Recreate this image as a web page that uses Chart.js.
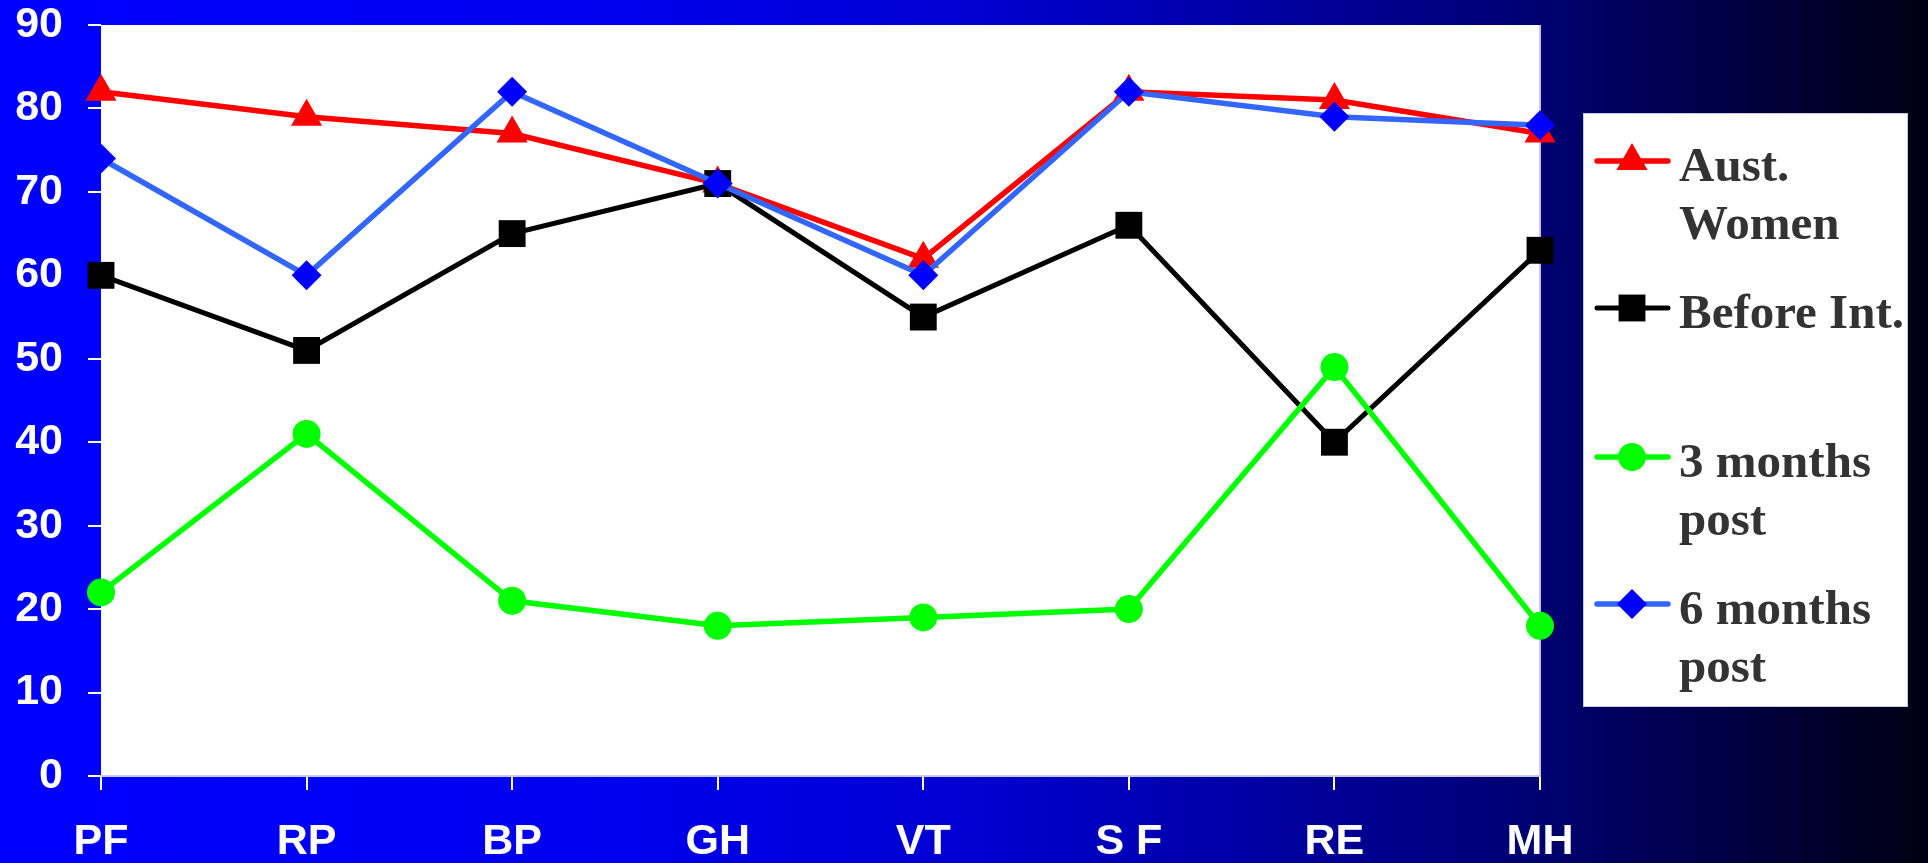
<!DOCTYPE html>
<html>
<head>
<meta charset="utf-8">
<title>SF-36 scores</title>
<script src="https://cdn.jsdelivr.net/npm/chart.js@4/dist/chart.umd.min.js"></script>
<style>
  html, body { margin: 0; padding: 0; background: #000; overflow: hidden; }
  canvas { display: block; }
</style>
</head>
<body>
<canvas id="chart" width="1928" height="863"></canvas>
<script>
// SF-36 domain scores
const categories = ['PF', 'RP', 'BP', 'GH', 'VT', 'S F', 'RE', 'MH'];
const austWomen   = [82, 79, 77, 71, 62, 82, 81, 77];
const beforeInt   = [60, 51, 65, 71, 55, 66, 40, 63];
const threeMonths = [22, 41, 21, 18, 19, 20, 49, 18];
const sixMonths   = [74, 60, 82, 71, 60, 82, 79, 78];

// value axis range and step
const yMin = 0;
const yMax = 90;
const yStep = 10;

// legend text, one array of lines per series
const legendLines = [
  ['Aust.', 'Women'],
  ['Before Int.'],
  ['3 months', 'post'],
  ['6 months', 'post']
];

const tickFont = { family: '"Liberation Sans", Arial, sans-serif', size: 43, weight: 'bold', lineHeight: 1.16 };
const legendFont = 'bold 49px "Liberation Serif", "Times New Roman", serif';

// slide background and white plot panel
const slideBackground = {
  id: 'slideBackground',
  beforeDraw(chart) {
    const { ctx, width, height, chartArea: a } = chart;
    const g = ctx.createLinearGradient(0, 0, width, 0);
    g.addColorStop(0.00, '#0000FF');
    g.addColorStop(0.30, '#0000F0');
    g.addColorStop(0.50, '#0000D2');
    g.addColorStop(0.65, '#0000A4');
    g.addColorStop(0.80, '#000070');
    g.addColorStop(0.90, '#000042');
    g.addColorStop(1.00, '#000012');
    ctx.save();
    ctx.fillStyle = g;
    ctx.fillRect(0, 0, width, height);
    ctx.fillStyle = '#FFFFFF';
    ctx.fillRect(a.left, a.top, a.right - a.left, a.bottom - a.top);
    ctx.strokeStyle = '#C8C8E6';
    ctx.lineWidth = 2;
    ctx.beginPath();
    ctx.moveTo(a.right, a.top);
    ctx.lineTo(a.right, a.bottom);
    ctx.stroke();
    ctx.restore();
  }
};

// boxed legend at the right with multi-line labels
const boxLegend = {
  id: 'boxLegend',
  afterDraw(chart) {
    const { ctx } = chart;
    const box = { x: 1583, y: 113, w: 325, h: 594 };
    const markerYs = [161, 308, 457, 604];
    const lineX0 = 1597, lineX1 = 1668, markX = 1632, textX = 1679;
    const lineGap = 57.5;
    ctx.save();
    ctx.fillStyle = '#FFFFFF';
    ctx.fillRect(box.x, box.y, box.w, box.h);
    ctx.strokeStyle = '#C8C8E6';
    ctx.lineWidth = 1;
    ctx.strokeRect(box.x + 0.5, box.y + 0.5, box.w - 1, box.h - 1);

    chart.data.datasets.forEach((ds, i) => {
      const y = markerYs[i];
      ctx.strokeStyle = ds.borderColor;
      ctx.lineWidth = ds.borderWidth;
      ctx.lineCap = 'round';
      ctx.beginPath();
      ctx.moveTo(lineX0, y);
      ctx.lineTo(lineX1, y);
      ctx.stroke();
      ctx.lineCap = 'butt';
      ctx.fillStyle = ds.pointBackgroundColor;
      ctx.strokeStyle = ds.pointBackgroundColor;
      Chart.helpers.drawPoint(ctx, {
        pointStyle: ds.pointStyle,
        radius: ds.pointRadius,
        rotation: 0,
        borderWidth: 0
      }, markX, y);

      ctx.fillStyle = '#333333';
      ctx.font = legendFont;
      ctx.textAlign = 'left';
      ctx.textBaseline = 'alphabetic';
      legendLines[i].forEach((t, k) => {
        ctx.fillText(t, textX, y + 20 + k * lineGap);
      });
    });
    ctx.restore();
  }
};

new Chart(document.getElementById('chart'), {
  type: 'line',
  data: {
    labels: categories,
    datasets: [
      {
        label: 'Aust. Women',
        data: austWomen,
        order: 4,
        borderColor: '#FF0000',
        borderWidth: 5.5,
        pointStyle: 'triangle',
        pointRadius: 18,
        pointBackgroundColor: '#FF0000',
        pointBorderWidth: 0,
        tension: 0,
        clip: false
      },
      {
        label: 'Before Int.',
        data: beforeInt,
        order: 3,
        borderColor: '#000000',
        borderWidth: 5,
        pointStyle: 'rect',
        pointRadius: 19,
        pointBackgroundColor: '#000000',
        pointBorderWidth: 0,
        tension: 0,
        clip: false
      },
      {
        label: '3 months post',
        data: threeMonths,
        order: 2,
        borderColor: '#00FF00',
        borderWidth: 5.5,
        pointStyle: 'circle',
        pointRadius: 14,
        pointBackgroundColor: '#00FF00',
        pointBorderWidth: 0,
        tension: 0,
        clip: false
      },
      {
        label: '6 months post',
        data: sixMonths,
        order: 1,
        borderColor: '#3366FF',
        borderWidth: 5.5,
        pointStyle: 'rectRot',
        pointRadius: 15,
        pointBackgroundColor: '#0000FF',
        pointBorderWidth: 0,
        tension: 0,
        clip: false
      }
    ]
  },
  options: {
    responsive: false,
    animation: false,
    events: [],
    layout: { padding: { left: 0, top: 0, right: 388, bottom: 0 } },
    plugins: {
      legend: { display: false },
      tooltip: { enabled: false },
      title: { display: false }
    },
    scales: {
      x: {
        type: 'category',
        offset: false,
        grid: { display: true, drawOnChartArea: false, drawTicks: true, tickLength: 14, color: '#FFFFFF', lineWidth: 2 },
        border: { display: true, color: '#C8C8E6', width: 2 },
        ticks: { color: '#FFFFFF', font: tickFont, padding: 27, maxRotation: 0, autoSkip: false },
        afterFit(scale) { scale.height = 87; }
      },
      y: {
        min: yMin,
        max: yMax,
        grid: { display: true, drawOnChartArea: false, drawTicks: true, tickLength: 13, color: '#FFFFFF', lineWidth: 2 },
        border: { display: false },
        ticks: { color: '#FFFFFF', font: tickFont, padding: 25, stepSize: yStep },
        afterFit(scale) {
          scale.width = 101;
          scale.paddingTop = 25;
        }
      }
    }
  },
  plugins: [slideBackground, boxLegend]
});
</script>
</body>
</html>
